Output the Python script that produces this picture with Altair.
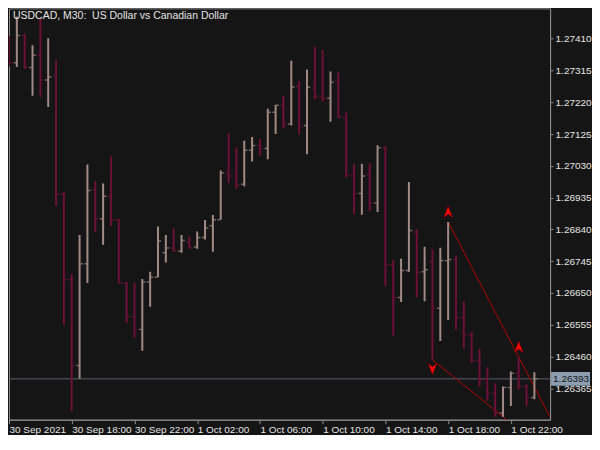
import altair as alt
import pandas as pd

# ---- data (USDCAD M30) ----
bar_index = list(range(68))
opens = [1.27389, 1.27338, 1.27420, 1.27324, 1.27361, 1.27287, 1.27300, 1.26945, 1.26690, 1.26433,
         1.26737, 1.26959, 1.26872, 1.26940, 1.26869, 1.26679, 1.26579, 1.26541, 1.26683, 1.26697,
         1.26770, 1.26784, 1.26775, 1.26802, 1.26787, 1.26816, 1.26851, 1.26869, 1.27009, 1.27000,
         1.26975, 1.27077, 1.27091, 1.27082, 1.27190, 1.27211, 1.27155, 1.27268, 1.27151, 1.27263,
         1.27236, 1.27232, 1.27285, 1.27174, 1.27001, 1.26947, 1.27003, 1.26919, 1.27084, 1.26734,
         1.26636, 1.26717, 1.26832, 1.26713, 1.26743, 1.26604, 1.26746, 1.26749, 1.26575, 1.26525,
         1.26448, 1.26391, 1.26350, 1.26291, 1.26367, 1.26410, 1.26370, 1.26337]
highs = [1.27418, 1.27477, 1.27425, 1.27391, 1.27470, 1.27412, 1.27344, 1.26950, 1.26706, 1.26823,
         1.27034, 1.26984, 1.26977, 1.27058, 1.26872, 1.26683, 1.26680, 1.26692, 1.26713, 1.26849,
         1.26823, 1.26843, 1.26823, 1.26819, 1.26834, 1.26868, 1.26883, 1.27016, 1.27127, 1.27085,
         1.27105, 1.27116, 1.27110, 1.27201, 1.27213, 1.27240, 1.27344, 1.27283, 1.27318, 1.27386,
         1.27377, 1.27312, 1.27309, 1.27190, 1.27036, 1.27036, 1.27038, 1.27092, 1.27089, 1.26748,
         1.26752, 1.26982, 1.26840, 1.26788, 1.26780, 1.26785, 1.26862, 1.26762, 1.26624, 1.26533,
         1.26482, 1.26428, 1.26379, 1.26370, 1.26415, 1.26458, 1.26376, 1.26413]
lows = [1.27327, 1.27326, 1.27320, 1.27240, 1.27236, 1.27206, 1.26910, 1.26555, 1.26297, 1.26393,
        1.26680, 1.26832, 1.26794, 1.26850, 1.26678, 1.26559, 1.26517, 1.26477, 1.26609, 1.26697,
        1.26741, 1.26773, 1.26770, 1.26782, 1.26782, 1.26810, 1.26773, 1.26869, 1.26979, 1.26962,
        1.26969, 1.27043, 1.27060, 1.27050, 1.27125, 1.27142, 1.27151, 1.27124, 1.27065, 1.27229,
        1.27222, 1.27162, 1.27174, 1.26995, 1.26885, 1.26884, 1.26894, 1.26892, 1.26670, 1.26523,
        1.26623, 1.26713, 1.26637, 1.26625, 1.26450, 1.26506, 1.26569, 1.26540, 1.26484, 1.26441,
        1.26370, 1.26327, 1.26280, 1.26280, 1.26312, 1.26361, 1.26312, 1.26332]
closes = [1.27337, 1.27420, 1.27325, 1.27361, 1.27287, 1.27296, 1.26945, 1.26690, 1.26433, 1.26737,
          1.26956, 1.26872, 1.26939, 1.26869, 1.26680, 1.26579, 1.26541, 1.26683, 1.26697, 1.26805,
          1.26784, 1.26777, 1.26807, 1.26785, 1.26816, 1.26844, 1.26869, 1.27009, 1.27000, 1.26973,
          1.27077, 1.27091, 1.27082, 1.27190, 1.27211, 1.27155, 1.27266, 1.27147, 1.27265, 1.27238,
          1.27231, 1.27280, 1.27177, 1.27002, 1.26947, 1.27000, 1.26919, 1.27084, 1.26734, 1.26636,
          1.26717, 1.26837, 1.26712, 1.26719, 1.26604, 1.26747, 1.26750, 1.26577, 1.26525, 1.26448,
          1.26391, 1.26350, 1.26291, 1.26367, 1.26410, 1.26372, 1.26337, 1.26393]

tick_positions = [0, 8, 16, 24, 32, 40, 48, 56, 64]
tick_labels = ["30 Sep 2021", "30 Sep 18:00", "30 Sep 22:00", "1 Oct 02:00", "1 Oct 06:00",
               "1 Oct 10:00", "1 Oct 14:00", "1 Oct 18:00", "1 Oct 22:00"]
price_ticks = [1.27410, 1.27315, 1.27220, 1.27125, 1.27030, 1.26935, 1.26840, 1.26745,
               1.26650, 1.26555, 1.26460, 1.26365]
last_price = 1.26393
chart_title = "USDCAD, M30:\u00a0 US Dollar vs Canadian Dollar"
upper_pivots = [56, 65]   # fractal highs joined by the upper trend line
lower_pivots = [54, 63]   # fractal lows joined by the lower trend line
x_domain = [0, 69]
y_domain = [1.26271, 1.27501]

# ---- styling ----
W, H = 542, 412
BG = "#151515"
UP_C = "#a08a86"
DOWN_C = "#6c1037"
FRAME = "#8c8c8c"
TXT = "#e4e4e4"
FONT = "Liberation Sans"

bars = pd.DataFrame({"k": bar_index, "open": opens, "high": highs, "low": lows, "close": closes})
bars["dir"] = ["up" if c >= o else "down" for o, c in zip(opens, closes)]

label_expr = "[" + ",".join("'%s'" % t for t in tick_labels) + "][round(datum.value / 8)]"
x_axis = alt.Axis(values=tick_positions, labelExpr=label_expr, labelAlign="left", labelPadding=1,
                  tickSize=4, labelOverlap=False, labelFlush=False, labelBound=False, grid=False,
                  title=None, orient="bottom")
y_axis = alt.Axis(orient="right", values=price_ticks, format=".5f", tickSize=3, labelPadding=2,
                  grid=False, title=None, labelOverlap=False)
xs = alt.Scale(domain=x_domain, nice=False, zero=False)
ys = alt.Scale(domain=y_domain, nice=False, zero=False)
color = alt.Color("dir:N", scale=alt.Scale(domain=["up", "down"], range=[UP_C, DOWN_C]), legend=None)

base = alt.Chart(bars)
hl = base.mark_rule(strokeWidth=2, clip=True).encode(
    x=alt.X("k:Q", scale=xs, axis=x_axis),
    y=alt.Y("low:Q", scale=ys, axis=y_axis),
    y2="high:Q",
    color=color,
)
open_tick = base.mark_tick(orient="horizontal", size=2.5, thickness=1.5, xOffset=-2, clip=True).encode(
    x=alt.X("k:Q", scale=xs, axis=x_axis),
    y=alt.Y("open:Q", scale=ys, axis=y_axis),
    color=color,
)
close_tick = base.mark_tick(orient="horizontal", size=2.5, thickness=1.5, xOffset=2, clip=True).encode(
    x=alt.X("k:Q", scale=xs, axis=x_axis),
    y=alt.Y("close:Q", scale=ys, axis=y_axis),
    color=color,
)

# current price line + label box
price_df = pd.DataFrame({"p": [last_price]})
price_line = alt.Chart(price_df).mark_rule(color="#56616e", strokeWidth=1).encode(
    y=alt.Y("p:Q", scale=ys, axis=y_axis)
)
price_box = alt.Chart(price_df).mark_point(
    shape="M-1,-0.35L1,-0.35L1,0.35L-1,0.35Z", size=1521, filled=True, opacity=1,
    color="#8d9eb2", strokeWidth=0,
).encode(x=alt.value(W + 20.5), y=alt.Y("p:Q", scale=ys, axis=y_axis))
price_text = alt.Chart(price_df).mark_text(
    align="left", baseline="middle", color="#141414", font=FONT, fontSize=10,
).encode(x=alt.value(W + 3), y=alt.Y("p:Q", scale=ys, axis=y_axis), text=alt.Text("p:Q", format=".5f"))

# trend lines through fractal pivots, extended to the right edge
def ray(name, pivots, vals):
    k0, k1 = pivots
    v0, v1 = vals[k0], vals[k1]
    slope = (v1 - v0) / (k1 - k0)
    kend = x_domain[1]
    return pd.DataFrame({"line": [name, name], "k": [k0, kend], "price": [v0, v0 + slope * (kend - k0)]})

lines_df = pd.concat([ray("upper", upper_pivots, highs), ray("lower", lower_pivots, lows)])
trend = alt.Chart(lines_df).mark_line(color="#b00000", strokeWidth=1, clip=True).encode(
    x=alt.X("k:Q", scale=xs, axis=x_axis),
    y=alt.Y("price:Q", scale=ys, axis=y_axis),
    detail="line:N",
)

up_df = pd.DataFrame({"k": upper_pivots, "price": [highs[i] for i in upper_pivots]})
dn_df = pd.DataFrame({"k": [lower_pivots[0]], "price": [lows[lower_pivots[0]]]})
up_arrows = alt.Chart(up_df).mark_point(
    shape="M0,-1L0.75,0.9L0,0.35L-0.75,0.9Z", size=130, filled=True, color="#ff0a0a",
    stroke="#8a0000", strokeWidth=0.8, opacity=1, yOffset=-10,
).encode(x=alt.X("k:Q", scale=xs, axis=x_axis), y=alt.Y("price:Q", scale=ys, axis=y_axis))
dn_arrows = alt.Chart(dn_df).mark_point(
    shape="M0,1L0.75,-0.9L0,-0.35L-0.75,-0.9Z", size=130, filled=True, color="#ff0a0a",
    stroke="#8a0000", strokeWidth=0.8, opacity=1, yOffset=9,
).encode(x=alt.X("k:Q", scale=xs, axis=x_axis), y=alt.Y("price:Q", scale=ys, axis=y_axis))

title_df = pd.DataFrame({"t": [chart_title]})
title_mark = alt.Chart(title_df).mark_text(
    align="left", baseline="middle", color=TXT, font=FONT, fontSize=10.5,
).encode(x=alt.value(4), y=alt.value(8), text="t:N")

chart = alt.layer(
    price_line, trend, hl, open_tick, close_tick, up_arrows, dn_arrows, price_box, price_text, title_mark
).properties(
    width=W, height=H, background=BG, padding={"left": 0, "top": 0, "right": 0, "bottom": 0}
).configure_view(
    stroke=FRAME, strokeWidth=1
).configure_axis(
    domainColor=FRAME, tickColor=FRAME, labelColor=TXT, labelFont=FONT, labelFontSize=10,
)

chart.save("out.html", embed_options={"renderer": "svg", "actions": False})
